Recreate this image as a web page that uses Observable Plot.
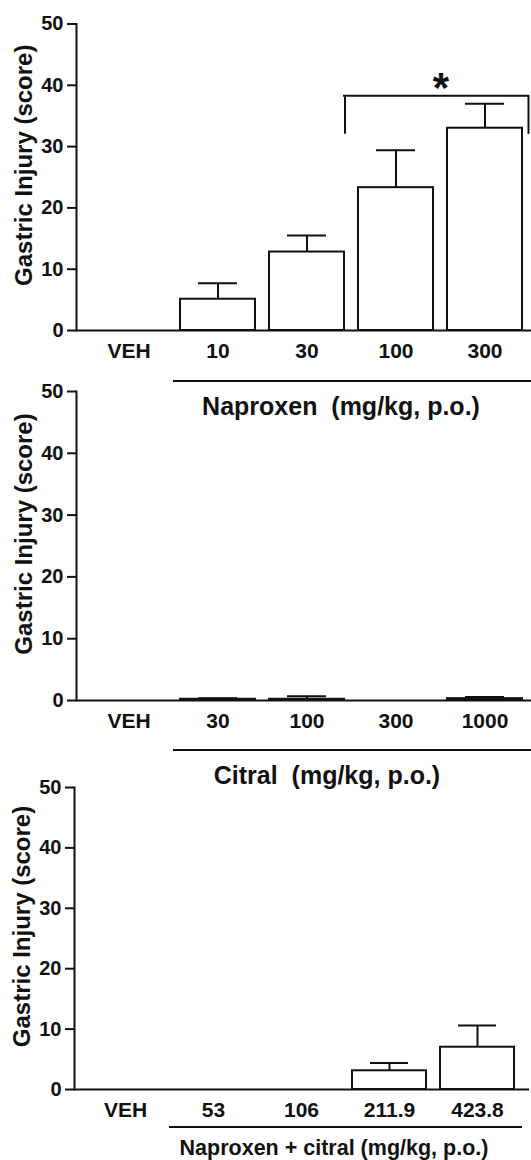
<!DOCTYPE html>
<html><head><meta charset="utf-8">
<script src="https://cdn.jsdelivr.net/npm/d3@7"></script>
<script src="https://cdn.jsdelivr.net/npm/@observablehq/plot@0.6"></script>
<style>
html,body{margin:0;padding:0;background:#fff;overflow:hidden;}
#page{position:relative;width:531px;height:1160px;font-family:"Liberation Sans",Arial,sans-serif;font-weight:bold;color:#111;overflow:hidden;}
.panel{position:absolute;left:0;}
.grp-line{position:absolute;border-top:2px solid #111;height:0;}
.grp-text{position:absolute;white-space:pre;line-height:1;transform:translateX(-50%);}
</style></head><body><div id="page"></div>
<script>
// ---- data ----
const yLabel = "Gastric Injury (score)";
const yTicks = [0, 10, 20, 30, 40, 50];

const naproxenDoses = ["VEH", "10", "30", "100", "300"];
const naproxenMean  = [0, 5.1, 12.8, 23.3, 33.0];
const naproxenSem   = [0, 2.6, 2.7, 6.1, 4.0];

const citralDoses = ["VEH", "30", "100", "300", "1000"];
const citralMean  = [0, 0.2, 0.2, 0, 0.3];
const citralSem   = [0, 0.15, 0.5, 0, 0.25];

const comboDoses = ["VEH", "53", "106", "211.9", "423.8"];
const comboMean  = [0, 0, 0, 3.1, 7.0];
const comboSem   = [0, 0, 0, 1.3, 3.6];

const groupLabels = ["Naproxen  (mg/kg, p.o.)", "Citral  (mg/kg, p.o.)", "Naproxen + citral (mg/kg, p.o.)"];

// significance bracket (panel 1)
const sigFrom = "100", sigTo = "300", sigY = 38.3, sigLegY = 32.0, sigStarY = 42.1, sigMark = "*";

// ---- drawing ----
const ink = "#111";
const page = document.getElementById("page");

function panel({doses, mean, sem, top, height, marginTop, marginLeft, marginRight, range, pOuter, extra = []}) {
  const data = doses.map((d, i) => ({dose: d, mean: mean[i], sem: sem[i], upper: mean[i] + sem[i]}));
  const withErr = data.filter(d => d.sem > 0);
  const chart = Plot.plot({
    width: 531,
    height,
    marginTop,
    marginBottom: 40,
    marginLeft,
    marginRight,
    style: {background: "transparent", fontFamily: '"Liberation Sans", Arial, sans-serif', fontWeight: "bold", color: ink, overflow: "visible"},
    x: {type: "band", domain: doses, range, paddingInner: 0.16, paddingOuter: pOuter, align: 0.5},
    y: {domain: [0, 50]},
    marks: [
      Plot.barY(data, {x: "dose", y: "mean", fill: "white", stroke: ink, strokeWidth: 2}),
      Plot.ruleX(withErr, {x: "dose", y1: "mean", y2: "upper", stroke: ink, strokeWidth: 2}),
      Plot.tickY(withErr, {x: "dose", y: "upper", stroke: ink, strokeWidth: 2, inset: 18}),
      Plot.ruleY([0], {stroke: ink, strokeWidth: 2}),
      Plot.frame({anchor: "left", stroke: ink, strokeWidth: 2}),
      Plot.axisY(yTicks, {tickSize: 9, tickPadding: 4, fontSize: 20, label: null, stroke: ink, strokeWidth: 2, fill: ink}),
      Plot.axisX({tickSize: 0, tickPadding: 13, fontSize: 21, label: null, fill: ink}),
      Plot.text([yLabel], {frameAnchor: "left", textAnchor: "middle", lineAnchor: "middle", rotate: -90, dx: -52, dy: -12, fontSize: 24, fontWeight: "bold", fill: ink}),
      ...extra
    ]
  });
  const wrap = document.createElement("div");
  wrap.className = "panel";
  wrap.style.top = top + "px";
  wrap.appendChild(chart);
  page.appendChild(wrap);
}

const bracket = [{from: sigFrom, to: sigTo, y: sigY, legY: sigLegY, starY: sigStarY, mark: sigMark}];

panel({
  doses: naproxenDoses, mean: naproxenMean, sem: naproxenSem,
  top: 0, height: 370, marginTop: 23.5, marginLeft: 76, marginRight: 0, range: [76, 537.5], pOuter: 0.147,
  extra: [
    Plot.ruleY(bracket, {x1: "from", x2: "to", y: "y", insetLeft: -14, insetRight: -6, stroke: ink, strokeWidth: 2, strokeLinecap: "square"}),
    Plot.ruleX(bracket, {x: "from", y1: "legY", y2: "y", dx: -51, stroke: ink, strokeWidth: 2}),
    Plot.ruleX(bracket, {x: "to", y1: "legY", y2: "y", dx: 43.5, stroke: ink, strokeWidth: 2}),
    Plot.text(bracket, {x: "from", y: "starY", text: "mark", dx: 45, lineAnchor: "top", fontSize: 42, fontWeight: "bold", fill: ink})
  ]
});
panel({
  doses: citralDoses, mean: citralMean, sem: citralSem,
  top: 368, height: 372, marginTop: 23, marginLeft: 76, marginRight: 0, range: [76, 537.5], pOuter: 0.147
});
panel({
  doses: comboDoses, mean: comboMean, sem: comboSem,
  top: 764, height: 365, marginTop: 23, marginLeft: 74, marginRight: 2, range: [74, 528], pOuter: 0.145
});

function group(label, lineTop, lineLeft, lineWidth, textTop, textCenter, fontSize) {
  const l = document.createElement("div");
  l.className = "grp-line";
  Object.assign(l.style, {top: lineTop + "px", left: lineLeft + "px", width: lineWidth + "px"});
  page.appendChild(l);
  const t = document.createElement("div");
  t.className = "grp-text";
  t.textContent = label;
  Object.assign(t.style, {top: textTop + "px", left: textCenter + "px", fontSize: fontSize + "px"});
  page.appendChild(t);
}
group(groupLabels[0], 380, 173, 358, 394, 341, 25);
group(groupLabels[1], 749, 173, 358, 763, 327, 25);
group(groupLabels[2], 1126, 169, 353, 1138, 334, 21.5);
</script></body></html>
